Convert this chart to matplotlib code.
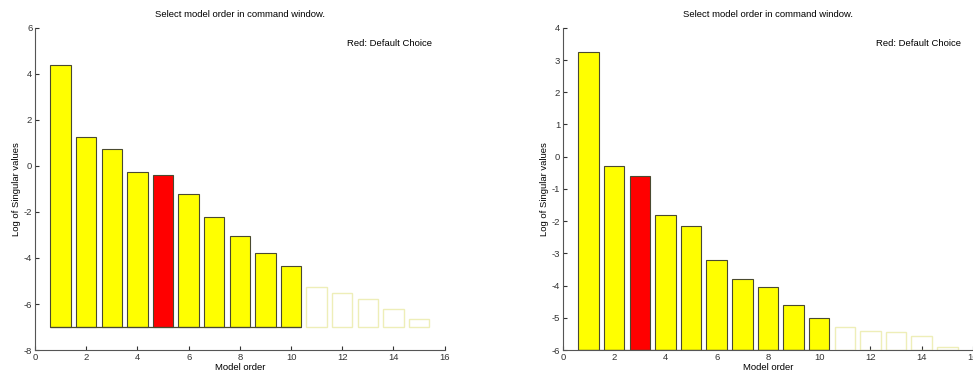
import matplotlib
matplotlib.use("Agg")
import matplotlib.pyplot as plt

orders = list(range(1, 16))
left_vals = [4.4, 1.25, 0.75, -0.25, -0.4, -1.2, -2.2, -3.05, -3.8, -4.35,
             -5.25, -5.5, -5.8, -6.2, -6.65]
right_vals = [3.25, -0.3, -0.6, -1.8, -2.15, -3.2, -3.8, -4.05, -4.6, -5.0,
              -5.3, -5.4, -5.45, -5.55, -5.9]
left_choice = 5
right_choice = 3
n_shown = 10

title = "Select model order in command window."
note = "Red: Default Choice"

plt.rcParams["font.family"] = ["Liberation Sans", "DejaVu Sans"]
plt.rcParams["axes.unicode_minus"] = False
fig = plt.figure(figsize=(9.73, 3.76), dpi=100)


def draw(ax, vals, choice, base, ylim, yticks, note_y):
    for x, v in zip(orders, vals):
        if x <= n_shown:
            col = "#ff0000" if x == choice else "#ffff00"
            ax.bar(x, v - base, bottom=base, width=0.8, color=col,
                   edgecolor="#4a4a30", linewidth=0.8, zorder=2)
        else:
            ax.bar(x, v - base, bottom=base, width=0.8, color="none",
                   edgecolor="#eeeeb8", linewidth=1.0, zorder=2)
    # baseline under the bars
    ax.hlines(base, 0.6, n_shown + 0.4, color="#4a4a30", linewidth=0.9, zorder=3)
    ax.set_xlim(0, 16)
    ax.set_ylim(*ylim)
    ax.set_xticks(range(0, 17, 2))
    ax.set_yticks(yticks)
    for s in ["top", "right"]:
        ax.spines[s].set_visible(False)
    for s in ["left", "bottom"]:
        ax.spines[s].set_color("#555555")
        ax.spines[s].set_linewidth(0.8)
    ax.tick_params(direction="in", length=3, labelsize=6.8, colors="#333333", pad=2)
    ax.set_xlabel("Model order", fontsize=6.8, labelpad=1)
    ax.set_ylabel("Log of Singular values", fontsize=6.8, labelpad=2)
    ax.set_title(title, fontsize=6.8, pad=8)
    ax.text(12.2, note_y, note, fontsize=6.8, va="center")


ax1 = fig.add_axes([0.036, 0.069, 0.421, 0.857])
draw(ax1, left_vals, left_choice, -7, (-8, 6), range(-8, 7, 2), 5.3)

ax2 = fig.add_axes([0.5785, 0.069, 0.4215, 0.857])
draw(ax2, right_vals, right_choice, -6, (-6, 4), range(-6, 5, 1), 3.5)

plt.savefig("out.png", dpi=100)
